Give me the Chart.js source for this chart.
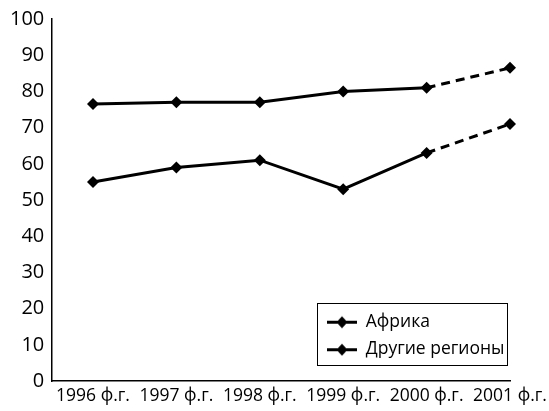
<!DOCTYPE html>
<html lang="ru">
<head>
<meta charset="UTF-8">
<script src="https://cdn.jsdelivr.net/npm/chart.js"></script>
<title>Chart</title>
<style>
  html, body { margin: 0; padding: 0; background: #fff; }
</style>
</head>
<body>
<canvas id="myChart" width="549" height="411"></canvas>
<script>
const years = [1996, 1997, 1998, 1999, 2000, 2001]
const yearSuffix = ' ф.г.'
const seriesNames = ['Африка', 'Другие регионы']
const africa = [55, 59, 61, 53, 63, 71]
const otherRegions = [76.5, 77, 77, 80, 81, 86.5]
const yTicks = [0, 10, 20, 30, 40, 50, 60, 70, 80, 90, 100]

const fontFamily = "'Open Sans', sans-serif"
const lastIdx = years.length - 1

// legend sample: thick line with a diamond in the middle
function makeSample() {
    const c = document.createElement('canvas')
    c.width = 30
    c.height = 14
    const g = c.getContext('2d')
    g.fillStyle = '#000'
    g.fillRect(0, 6, 30, 3)
    g.beginPath()
    g.moveTo(15, 1.5); g.lineTo(20.5, 7.5); g.lineTo(15, 13.5); g.lineTo(9.5, 7.5)
    g.closePath()
    g.fill()
    return c
}
const sample = makeSample()

function makeSeries(name, values) {
    return {
        label: name,
        data: years.map((yr, i) => ({x: yr, y: values[i]})),
        borderColor: '#000',
        backgroundColor: '#000',
        borderWidth: 3,
        pointStyle: 'rectRot',
        pointRadius: 6,
        pointBorderWidth: 0,
        pointBackgroundColor: '#000',
        tension: 0,
        clip: false,
        segment: {
            borderDash: ctx => ctx.p1DataIndex === lastIdx ? [9, 6] : undefined
        }
    }
}

// the legend sits in the lower right corner of the plot, inside a thin frame
const legendBox = {
    id: 'legendBox',
    afterUpdate(chart) {
        const lg = chart.legend, ca = chart.chartArea
        lg.left = ca.right - 193
        lg.right = ca.right - 3
        lg.top = ca.bottom - 78
        lg.bottom = ca.bottom
        lg.width = lg.right - lg.left
        lg.height = lg.bottom - lg.top
        lg.adjustHitBoxes()
    },
    afterDraw(chart) {
        const lg = chart.legend, ctx = chart.ctx
        ctx.save()
        ctx.strokeStyle = '#000'
        ctx.lineWidth = 1
        ctx.strokeRect(Math.round(lg.left) + 0.5, Math.round(lg.top) + 0.5, Math.round(lg.width), 62)
        ctx.restore()
    }
}

new Chart(document.getElementById('myChart'), {
    type: 'line',
    data: {
        datasets: [makeSeries(seriesNames[0], africa), makeSeries(seriesNames[1], otherRegions)]
    },
    options: {
        responsive: false,
        animation: false,
        layout: { padding: { top: 4.5, left: 3, right: 39, bottom: 0 } },
        plugins: {
            tooltip: { enabled: false },
            legend: {
                position: 'chartArea',
                align: 'start',
                labels: {
                    usePointStyle: true,
                    pointStyleWidth: 30,
                    padding: 10,
                    color: '#000',
                    font: { family: fontFamily, size: 17.5 },
                    generateLabels: chart => Chart.defaults.plugins.legend.labels.generateLabels(chart)
                        .map(l => ({...l, pointStyle: sample}))
                }
            }
        },
        scales: {
            x: {
                type: 'linear',
                min: 1995.5,
                max: 2001,
                afterBuildTicks: s => { s.ticks = years.map(v => ({value: v})) },
                afterFit: s => { s.paddingLeft = 0; s.paddingRight = 0; s.height = 30 },
                grid: { display: false, drawTicks: false },
                border: { display: true, color: '#000', width: 1.5 },
                ticks: {
                    autoSkip: false,
                    maxRotation: 0,
                    padding: 5,
                    color: '#000',
                    font: { family: fontFamily, size: 17.5 },
                    callback: v => v + yearSuffix
                }
            },
            y: {
                min: 0,
                max: 100,
                afterBuildTicks: s => { s.ticks = yTicks.map(v => ({value: v})) },
                grid: { display: false, drawTicks: false },
                border: { display: true, color: '#000', width: 1.5 },
                ticks: {
                    padding: 7,
                    color: '#000',
                    font: { family: fontFamily, size: 20 }
                }
            }
        }
    },
    plugins: [legendBox]
})
</script>
</body>
</html>
